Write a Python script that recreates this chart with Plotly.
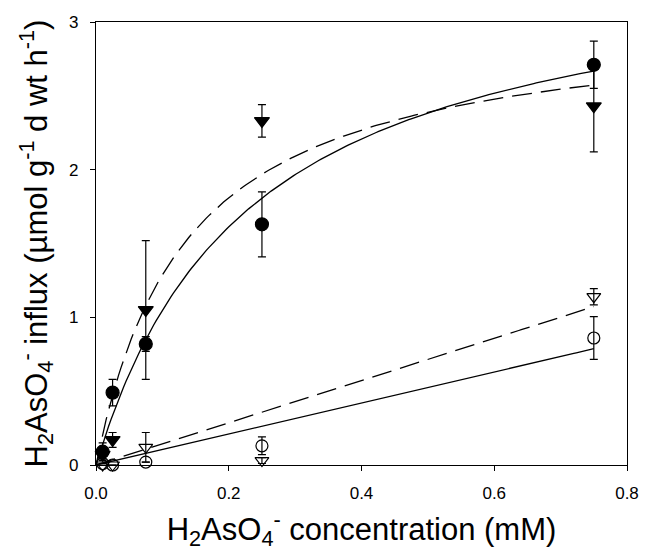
import numpy as np
import plotly.graph_objects as go

# Arsenate concentrations (mM)
conc = [0.01, 0.025, 0.075, 0.25, 0.75]

# Influx (umol g-1 d wt h-1) and standard errors for the four treatments
filled_circle = [0.09, 0.49, 0.82, 1.63, 2.71]
filled_circle_err = [0.06, 0.09, 0.05, 0.22, 0.16]
filled_tri = [0.07, 0.17, 1.05, 2.33, 2.43]
filled_tri_err = [0.03, 0.05, 0.47, 0.11, 0.31]
open_circle = [0.01, 0.0, 0.02, 0.13, 0.86]
open_circle_err = [0.0, 0.0, 0.0, 0.06, 0.145]
open_tri = [0.0, 0.0, 0.12, 0.03, 1.14]
open_tri_err = [0.0, 0.0, 0.10, 0.02, 0.055]

# Fitted kinetic parameters (Michaelis-Menten: Vmax, Km; linear: slope)
fit_circle = (3.50, 0.234)
fit_tri = (3.04, 0.136)
slope_open_circle = 1.05
slope_open_tri = 1.43

xs = np.linspace(0.0, 0.75, 200)
mm = lambda p, x: p[0] * x / (p[1] + x)

FONT = "Liberation Sans, Arial, sans-serif"

fig = go.Figure()

# fitted curves
fig.add_trace(go.Scatter(x=xs, y=mm(fit_circle, xs), mode="lines",
                         line=dict(color="black", width=1.3), hoverinfo="skip"))
fig.add_trace(go.Scatter(x=xs, y=mm(fit_tri, xs), mode="lines",
                         line=dict(color="black", width=1.3, dash="20px,9px"), hoverinfo="skip"))
fig.add_trace(go.Scatter(x=xs, y=slope_open_circle * xs, mode="lines",
                         line=dict(color="black", width=1.3), hoverinfo="skip"))
fig.add_trace(go.Scatter(x=xs, y=slope_open_tri * xs, mode="lines",
                         line=dict(color="black", width=1.3, dash="20px,9px"), hoverinfo="skip"))


def points(y, err, symbol, size):
    return go.Scatter(
        x=conc, y=y, mode="markers", cliponaxis=False,
        marker=dict(symbol=symbol, size=size, color="black",
                    line=dict(color="black", width=1.2)),
        error_y=dict(type="data", array=err, symmetric=True, color="black",
                     thickness=1.2, width=4),
    )


fig.add_trace(points(open_circle, open_circle_err, "circle-open", 12))
fig.add_trace(points(open_tri, open_tri_err, "triangle-down-open", 12))
fig.add_trace(points(filled_circle, filled_circle_err, "circle", 13))
fig.add_trace(points(filled_tri, filled_tri_err, "triangle-down", 13))

axis_common = dict(showline=True, linecolor="black", linewidth=1.2, mirror=True,
                   ticks="outside", ticklen=5, tickcolor="black", tickwidth=1,
                   showgrid=False, zeroline=False,
                   tickfont=dict(family=FONT, size=17, color="black"))

fig.update_xaxes(range=[0, 0.8], tickvals=[0, 0.2, 0.4, 0.6, 0.8], tickformat=".1f",
                 ticklabelstandoff=7,
                 title=dict(text="H<sub>2</sub>AsO<sub>4</sub><sup>-</sup> concentration (mM)",
                            font=dict(family=FONT, size=31, color="black"), standoff=16),
                 **axis_common)
fig.update_yaxes(range=[0, 3], tickvals=[0, 1, 2, 3],
                 ticklabelstandoff=8,
                 title=dict(text="H<sub>2</sub>AsO<sub>4</sub><sup>-</sup> influx (µmol g<sup>-1</sup> d wt h<sup>-1</sup>)",
                            font=dict(family=FONT, size=31, color="black"), standoff=12),
                 **axis_common)

fig.update_layout(width=651, height=553, showlegend=False,
                  margin=dict(l=96, r=17, t=22, b=88),
                  plot_bgcolor="white", paper_bgcolor="white")

fig.write_html("out.html")
